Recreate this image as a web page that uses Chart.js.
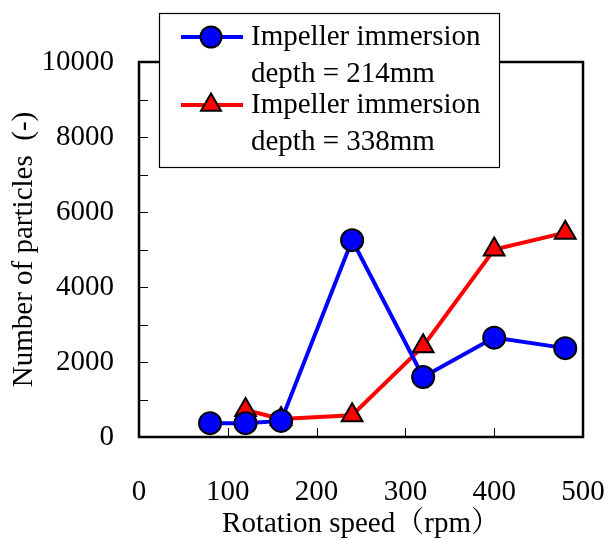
<!DOCTYPE html>
<html>
<head>
<meta charset="utf-8">
<script src="https://cdn.jsdelivr.net/npm/chart.js@4.4.0/dist/chart.umd.min.js"></script>
<style>
  html, body { margin: 0; padding: 0; background: #fff; }
  #wrap { width: 607px; height: 539px; }
</style>
</head>
<body>
<div id="wrap"><canvas id="chart" width="607" height="539"></canvas></div>
<script>
// data
const speed214 = [80, 120, 160, 240, 320, 400, 480];
const count214 = [370, 370, 430, 5250, 1600, 2650, 2370];
const speed338 = [120, 160, 240, 320, 400, 480];
const count338 = [720, 480, 580, 2420, 5000, 5450];
const legendLines214 = ["Impeller immersion", "depth = 214mm"];
const legendLines338 = ["Impeller immersion", "depth = 338mm"];
const xTitle = "Rotation speed\uFF08rpm\uFF09";
const yTitle = "Number of particles  (-)";

const FONT = "'Liberation Serif', 'Times New Roman', 'Noto Serif CJK JP', 'Noto Sans CJK JP', serif";

function toPoints(xs, ys) {
  return xs.map((x, i) => ({ x: x, y: ys[i] }));
}

// inner tick marks + frame
const frameTicks = {
  id: 'frameTicks',
  afterDatasetsDraw(chart) {
    const { ctx, chartArea: a, scales } = chart;
    ctx.save();
    ctx.strokeStyle = '#000';
    ctx.lineWidth = 1;
    for (let v = 100; v < 500; v += 100) {
      const px = Math.round(scales.x.getPixelForValue(v)) + 0.5;
      ctx.beginPath();
      ctx.moveTo(px, a.bottom);
      ctx.lineTo(px, a.bottom - 9);
      ctx.stroke();
    }
    for (let v = 1000; v < 10000; v += 1000) {
      const py = Math.round(scales.y.getPixelForValue(v)) + 0.5;
      ctx.beginPath();
      ctx.moveTo(a.left, py);
      ctx.lineTo(a.left + 9, py);
      ctx.stroke();
    }
    ctx.lineWidth = 2.5;
    ctx.strokeRect(a.left, a.top, a.right - a.left, a.bottom - a.top);
    ctx.restore();
  }
};

// legend box drawn on top of frame
const boxLegend = {
  id: 'boxLegend',
  afterDraw(chart) {
    const { ctx } = chart;
    const bx = 159, by = 13, bw = 340, bh = 154;
    ctx.save();
    ctx.fillStyle = '#fff';
    ctx.fillRect(bx, by, bw, bh);
    ctx.strokeStyle = '#000';
    ctx.lineWidth = 1.2;
    ctx.strokeRect(bx + 0.5, by + 0.5, bw, bh);
    const entries = [
      { ds: chart.data.datasets[0], lines: legendLines214, y: 37 },
      { ds: chart.data.datasets[1], lines: legendLines338, y: 105 }
    ];
    entries.forEach(e => {
      ctx.strokeStyle = e.ds.borderColor;
      ctx.lineWidth = 4;
      ctx.beginPath();
      ctx.moveTo(181, e.y);
      ctx.lineTo(243, e.y);
      ctx.stroke();
      ctx.fillStyle = e.ds.pointBackgroundColor;
      ctx.strokeStyle = '#000';
      ctx.lineWidth = 2;
      Chart.helpers.drawPoint(ctx, {
        pointStyle: e.ds.pointStyle,
        radius: e.ds.pointRadius - 0.5,
        borderWidth: 2
      }, 211, e.y);
      ctx.fillStyle = '#000';
      ctx.font = '29px ' + FONT;
      ctx.textBaseline = 'middle';
      ctx.textAlign = 'left';
      ctx.fillText(e.lines[0], 251, e.y);
      ctx.fillText(e.lines[1], 251, e.y + 37);
    });
    ctx.restore();
  }
};

const chart = new Chart(document.getElementById('chart'), {
  type: 'scatter',
  data: {
    datasets: [
      {
        label: legendLines214.join(' '),
        data: toPoints(speed214, count214),
        showLine: true,
        borderColor: '#0000ff',
        borderWidth: 4,
        pointStyle: 'circle',
        pointRadius: 11,
        pointBackgroundColor: '#0000ff',
        pointBorderColor: '#000',
        pointBorderWidth: 2
      },
      {
        label: legendLines338.join(' '),
        data: toPoints(speed338, count338),
        showLine: true,
        borderColor: '#ff0000',
        borderWidth: 4,
        pointStyle: 'triangle',
        pointRadius: 12,
        pointBackgroundColor: '#ff0000',
        pointBorderColor: '#000',
        pointBorderWidth: 2
      }
    ]
  },
  options: {
    responsive: false,
    animation: false,
    layout: { padding: { left: 7, right: 24, top: 62, bottom: 0 } },
    plugins: {
      legend: { display: false },
      tooltip: { enabled: false }
    },
    scales: {
      x: {
        type: 'linear',
        min: 0, max: 500,
        border: { display: false },
        grid: { display: false, drawTicks: false },
        ticks: {
          stepSize: 100,
          padding: 38,
          color: '#000',
          font: { family: FONT, size: 29 }
        },
        title: {
          display: true,
          text: xTitle,
          color: '#000',
          padding: { top: 0, bottom: 0 },
          font: { family: FONT, size: 29, lineHeight: 1.0 }
        },
        afterFit: s => { s.height = 102; s.paddingLeft = 0; s.paddingRight = 0; }
      },
      y: {
        min: 0, max: 10000,
        border: { display: false },
        grid: { display: false, drawTicks: false },
        ticks: {
          stepSize: 1000,
          padding: 25,
          color: '#000',
          font: { family: FONT, size: 29 },
          callback: v => (v % 2000 === 0 ? String(v) : '')
        },
        title: {
          display: true,
          text: yTitle,
          color: '#000',
          padding: { top: 0, bottom: 0 },
          font: { family: FONT, size: 29 }
        },
        afterFit: s => { s.width = 132; s.paddingTop = 0; s.paddingBottom = 0; }
      }
    }
  },
  plugins: [frameTicks, boxLegend]
});
</script>
</body>
</html>
